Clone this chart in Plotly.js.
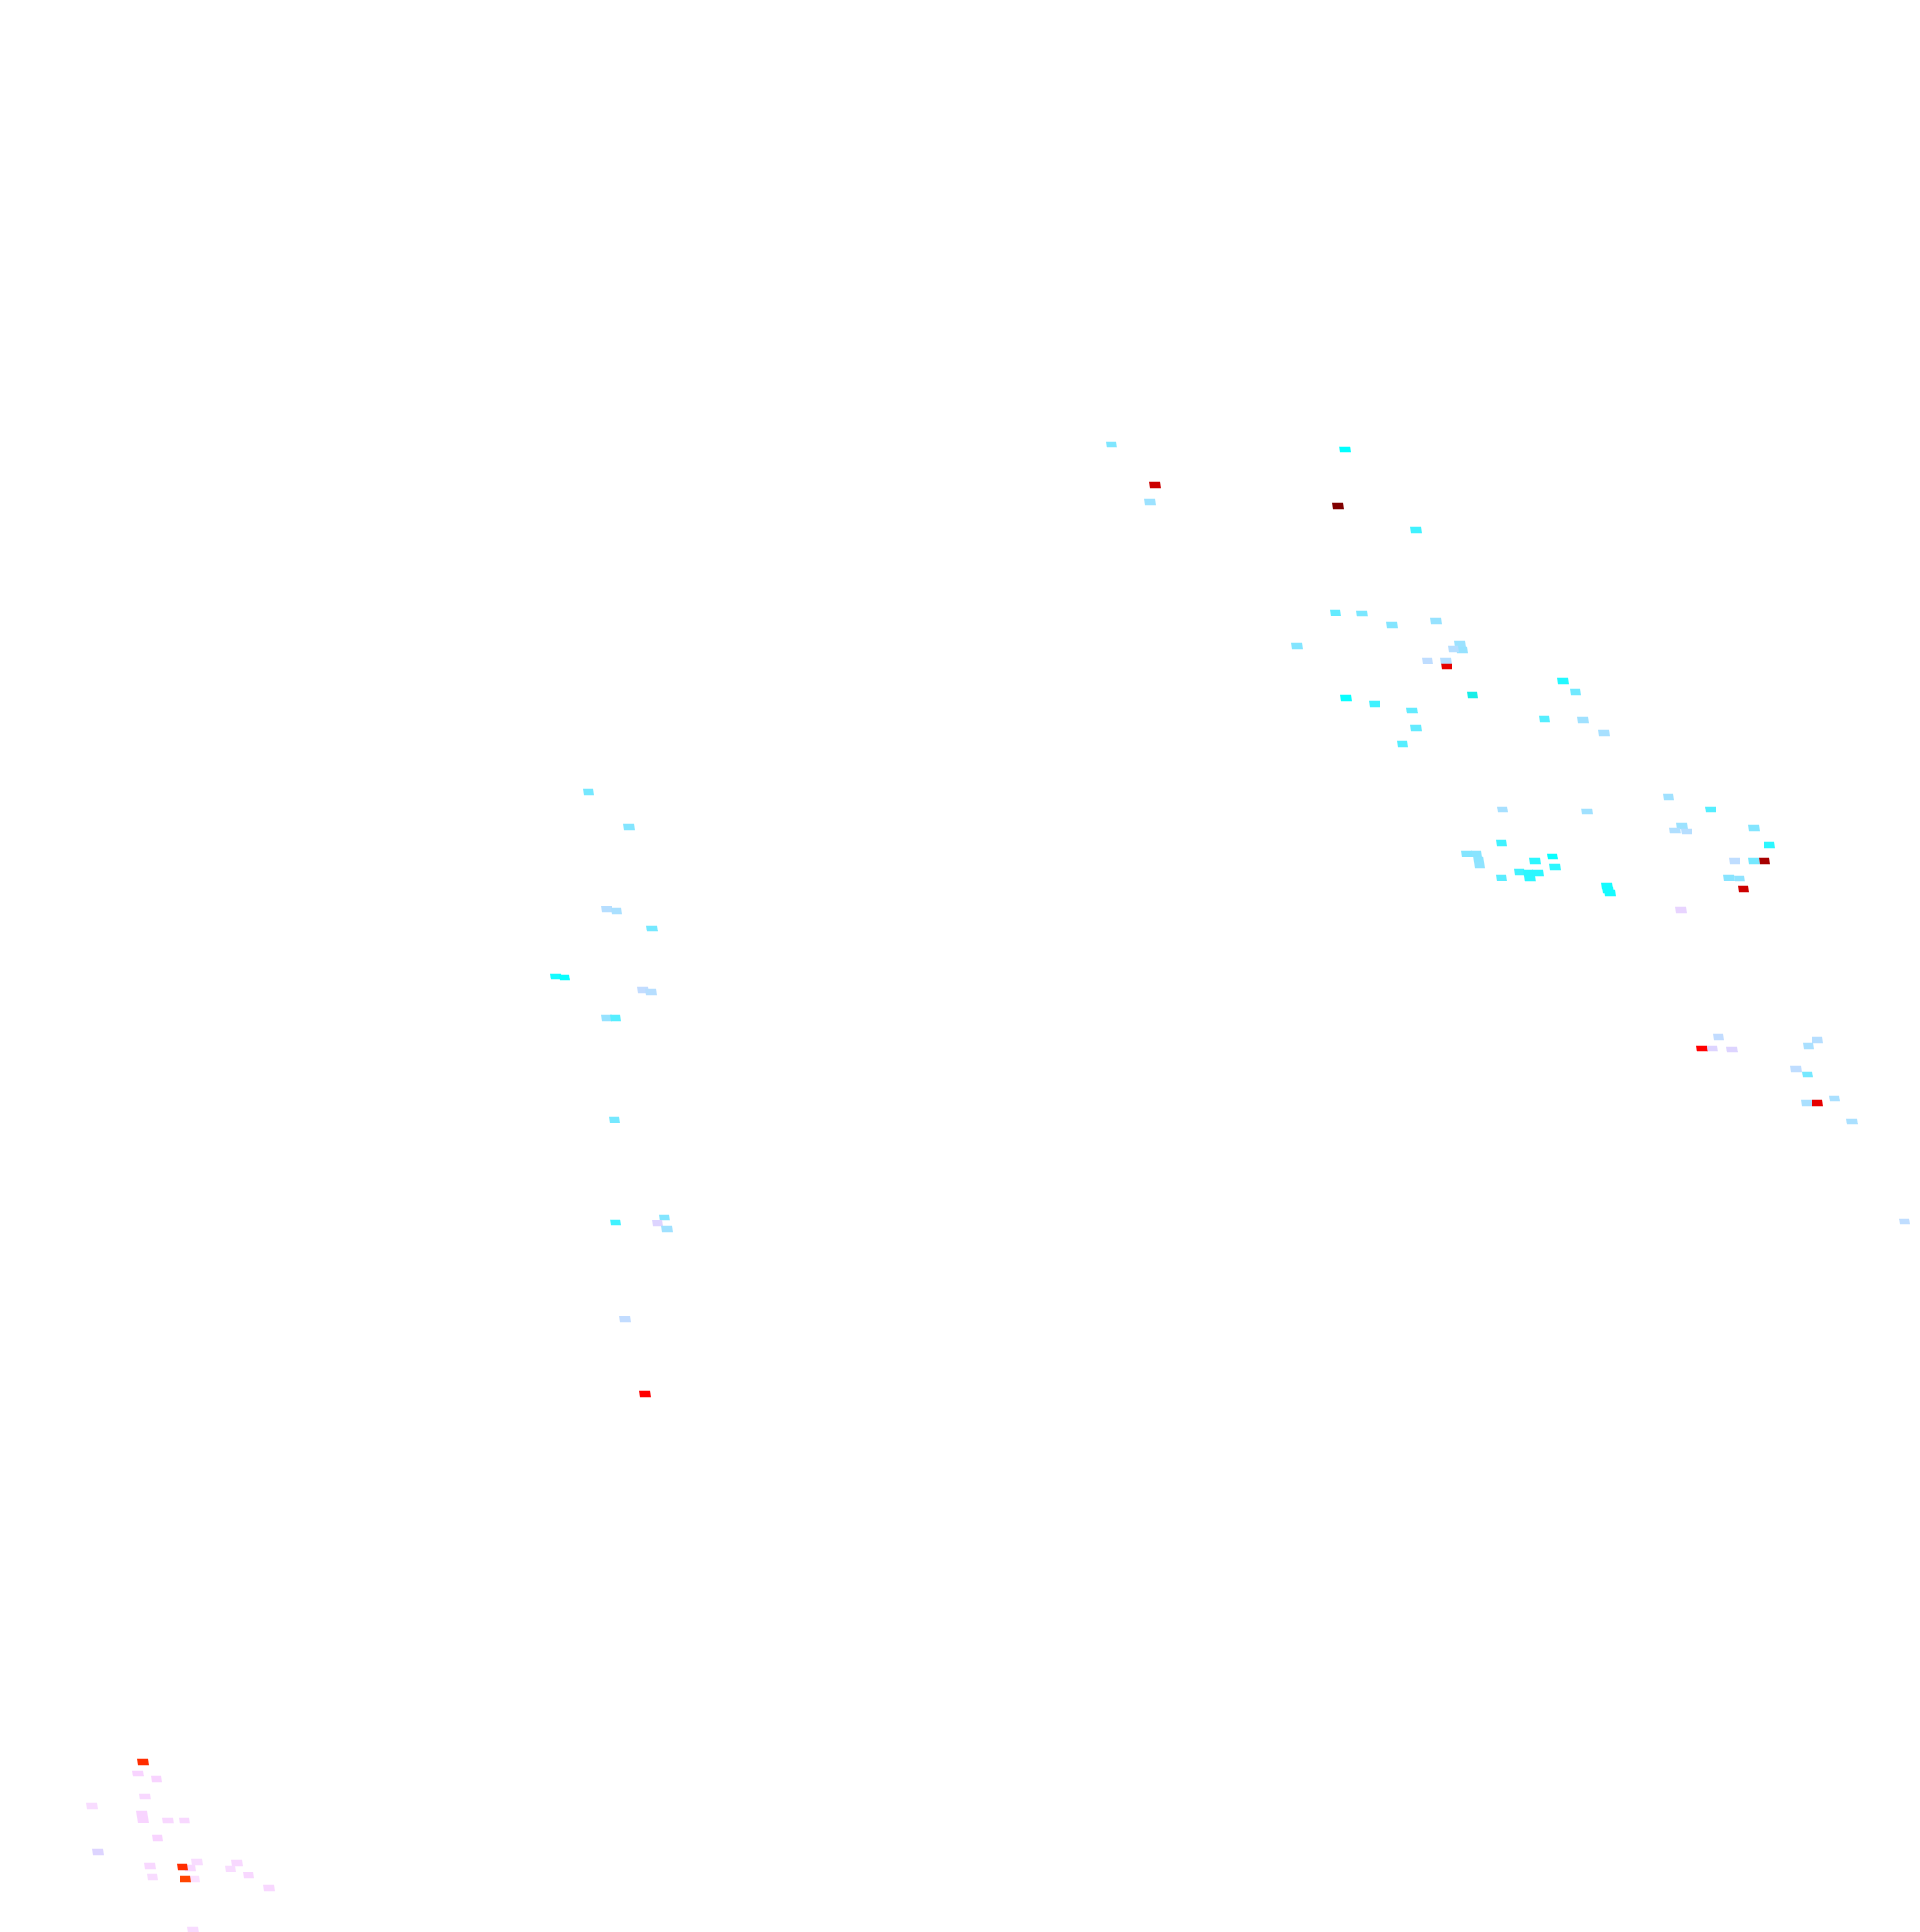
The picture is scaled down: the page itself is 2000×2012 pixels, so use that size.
<!DOCTYPE html>
<html>
<head>
<meta charset="utf-8">
<script src="https://cdn.plot.ly/plotly-3.0.1.min.js"></script>
<style>html,body{margin:0;padding:0;background:#fff;}#chart{width:2000px;height:2012px;}</style>
</head>
<body>
<div id="chart"></div>
<script>
// Cell centres (x, y) and values
const cellX = [
  1158, 1203, 1198, 1401, 1394, 1475,
  1391, 1419, 1450, 1496, 1351, 1521, 1523, 1514, 1487, 1506, 1507, 1628, 1641, 1402, 1432, 1534, 1471, 1609, 1649, 1475, 1671, 1461,
  1565, 1653, 1738, 1782, 1752, 1757, 1745, 1827, 1843, 1564, 1528, 1538, 1540, 1541, 1599, 1617, 1620, 1564, 1583, 1592, 1602, 1594, 1674, 1675, 1677, 1807, 1827, 1838, 1801, 1812, 1816, 1751,
  1790, 1773, 1784, 1804, 1893, 1884, 1871, 1883, 1911, 1882, 1893, 1929, 1984,
  613, 655, 632, 642, 679, 579, 588, 670, 678, 632, 641, 640, 641, 692, 685, 695, 651, 672,
  149, 144, 163, 151, 96, 148, 149, 175, 192, 164, 102, 156, 198, 205, 247, 240, 159, 202, 259, 280, 201, 190, 193
];
const cellY = [
  463, 505, 523, 468, 527, 552,
  638, 639, 651, 647, 673, 671, 677, 676, 688, 688, 694, 709, 721, 727, 733, 724, 740, 749, 750, 758, 763, 775,
  843, 845, 830, 843, 860, 866, 865, 862, 880, 878, 889, 889, 895, 901, 897, 892, 903, 914, 908, 909, 909, 915, 923, 927, 930, 897, 897, 897, 914, 915, 926, 948,
  1080, 1092, 1092, 1093, 1083, 1089, 1113, 1119, 1144, 1149, 1149, 1168, 1272,
  825, 861, 947, 949, 967, 1017, 1018, 1031, 1033, 1060, 1060, 1166, 1273, 1268, 1274, 1280, 1374, 1452,
  1835, 1847, 1853, 1871, 1881, 1889, 1895, 1896, 1896, 1914, 1929, 1943, 1945, 1939, 1940, 1946, 1955, 1957, 1953, 1966, 2010, 1944, 1957
];
const cellValue = [
  46, 90, 38, 67, 100, 58,
  52, 47, 45, 40, 45, 38, 40, 30, 27, 30, 87, 62, 49, 66, 58, 68, 52, 55, 37, 52, 35, 55,
  35, 37, 37, 55, 38, 30, 32, 45, 61, 58, 45, 44, 43, 42, 61, 66, 61, 54, 58, 61, 61, 61, 64, 64, 64, 27, 48, 95, 44, 42, 90, 14,
  26, 84, 18, 18, 30, 34, 27, 48, 34, 34, 87, 34, 27,
  48, 45, 30, 34, 48, 64, 66, 26, 30, 40, 55, 48, 58, 45, 18, 37, 26, 84,
  80, 8, 8, 6, 4, 8, 8, 6, 6, 8, 18, 6, 6, 4, 6, 4, 4, 2, 6, 6, 4, 80, 78
];

const colorStops = [
  [0.00, '#fde4ff'], [0.04, '#f8dcff'], [0.08, '#f8d4ff'], [0.18, '#ddd4ff'],
  [0.26, '#c2dcff'], [0.34, '#aae0ff'], [0.44, '#88e4ff'], [0.55, '#55eeff'],
  [0.67, '#00ffff'], [0.78, '#ff4400'], [0.84, '#ff0000'], [0.90, '#cc0000'],
  [1.00, '#800000']
];
const vMin = 0, vMax = 100;

function hexToRgb(h) {
  return [parseInt(h.slice(1, 3), 16), parseInt(h.slice(3, 5), 16), parseInt(h.slice(5, 7), 16)];
}
function colorFor(v) {
  const t = Math.max(0, Math.min(1, (v - vMin) / (vMax - vMin)));
  for (let i = 1; i < colorStops.length; i++) {
    if (t <= colorStops[i][0]) {
      const a = colorStops[i - 1], b = colorStops[i];
      const f = (t - a[0]) / (b[0] - a[0]);
      const ca = hexToRgb(a[1]), cb = hexToRgb(b[1]);
      const c = ca.map((x, k) => Math.round(x + (cb[k] - x) * f));
      return 'rgb(' + c.join(',') + ')';
    }
  }
  return colorStops[colorStops.length - 1][1];
}

const cellW = 11, cellH = 6.4, skew = 0.5;
const traces = cellX.map((cx, i) => {
  const cy = cellY[i];
  const xs = [cx - cellW / 2 - skew, cx + cellW / 2 - skew, cx + cellW / 2 + skew, cx - cellW / 2 + skew, cx - cellW / 2 - skew];
  const ys = [cy - cellH / 2, cy - cellH / 2, cy + cellH / 2, cy + cellH / 2, cy - cellH / 2];
  return {
    type: 'scatter', mode: 'lines', x: xs, y: ys, fill: 'toself',
    fillcolor: colorFor(cellValue[i]), line: {width: 0, color: colorFor(cellValue[i])},
    hoverinfo: 'text', text: String(cellValue[i]), showlegend: false
  };
});

const layout = {
  width: 2000, height: 2012,
  margin: {l: 0, r: 0, t: 0, b: 0},
  paper_bgcolor: '#ffffff', plot_bgcolor: '#ffffff',
  xaxis: {range: [0, 2000], visible: false, fixedrange: true},
  yaxis: {range: [2012, 0], visible: false, fixedrange: true},
  showlegend: false
};
Plotly.newPlot('chart', traces, layout, {displayModeBar: false, staticPlot: true});
</script>
</body>
</html>
